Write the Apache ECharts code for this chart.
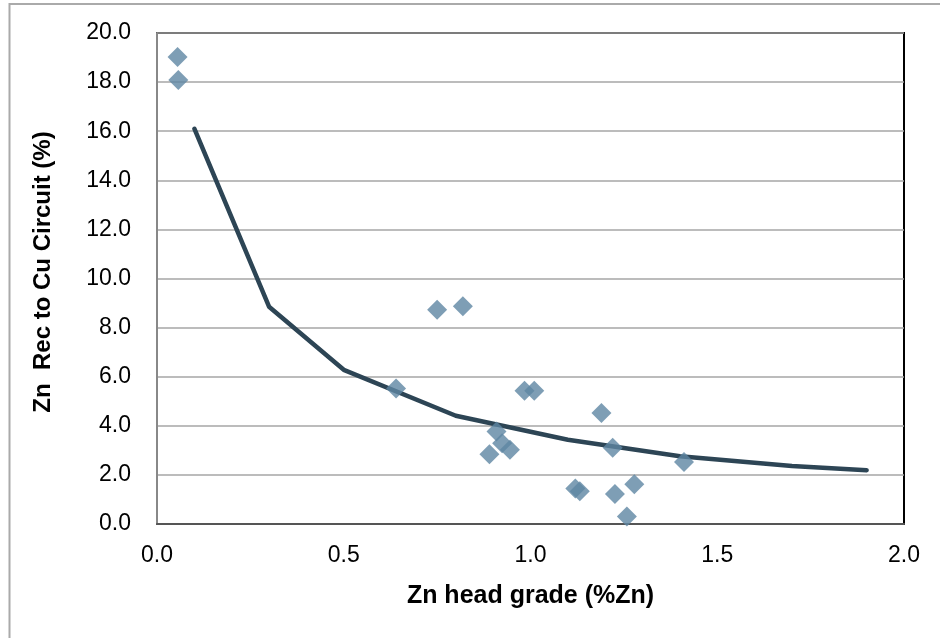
<!DOCTYPE html>
<html>
<head>
<meta charset="utf-8">
<script src="https://cdn.jsdelivr.net/npm/echarts@6/dist/echarts.min.js"></script>
<style>html,body{margin:0;padding:0;background:#fff;}#c{width:940px;height:638px;}</style>
</head>
<body>
<div id="c"></div>
<script>
// Scatter observations: Zn head grade (%Zn) vs Zn recovery to Cu circuit (%)
var pointX = [0.055, 0.057, 0.640, 0.750, 0.819, 0.984, 1.010, 0.909, 0.924, 0.945, 0.890, 1.120, 1.132, 1.190, 1.220, 1.226, 1.278, 1.258, 1.411];
var pointY = [19.02, 18.09, 5.52, 8.73, 8.87, 5.43, 5.43, 3.77, 3.29, 3.02, 2.84, 1.45, 1.33, 4.52, 3.11, 1.22, 1.62, 0.31, 2.53];
// Trend line
var lineX = [0.1, 0.3, 0.5, 0.8, 1.1, 1.4, 1.7, 1.9];
var lineY = [16.1, 8.85, 6.28, 4.41, 3.43, 2.76, 2.36, 2.19];
// Axis ticks
var xTicks = [0.0, 0.5, 1.0, 1.5, 2.0];
var yTicks = [0, 2, 4, 6, 8, 10, 12, 14, 16, 18, 20];

var scatterData = pointX.map(function (x, i) { return [x, pointY[i]]; });
var lineData = lineX.map(function (x, i) { return [x, lineY[i]]; });

var chart = echarts.init(document.getElementById('c'), null, {renderer: 'canvas'});
chart.setOption({
  animation: false,
  backgroundColor: '#fff',
  graphic: [{
    type: 'rect', silent: true, z: -10,
    shape: {x: 9.5, y: 4, width: 960, height: 660},
    style: {fill: 'none', stroke: '#aaaaaa', lineWidth: 2}
  }],
  grid: {
    left: 157, right: 36, top: 33, bottom: 114,
    show: true, borderColor: '#000', borderWidth: 2, backgroundColor: 'transparent'
  },
  xAxis: {
    type: 'value', min: xTicks[0], max: xTicks[xTicks.length - 1], interval: 0.5,
    name: 'Zn head grade (%Zn)', nameLocation: 'middle', nameGap: 60,
    nameTextStyle: {fontFamily: 'Liberation Sans', fontWeight: 'bold', fontSize: 25, color: '#000'},
    axisLine: {show: true, onZero: false, lineStyle: {color: '#555', width: 2}},
    axisTick: {show: false},
    splitLine: {show: false},
    axisLabel: {fontFamily: 'Liberation Sans', fontSize: 23, color: '#000', margin: 20,
      formatter: function (v) { return v.toFixed(1); }}
  },
  yAxis: {
    type: 'value', min: yTicks[0], max: yTicks[yTicks.length - 1], interval: 2,
    name: 'Zn  Rec to Cu Circuit (%)', nameLocation: 'middle', nameGap: 102,
    nameTextStyle: {fontFamily: 'Liberation Sans', fontWeight: 'bold', fontSize: 24, color: '#000',
      padding: [0, 0, 0, 13]},
    axisLine: {show: true, onZero: false, lineStyle: {color: '#888', width: 2}},
    axisTick: {show: false},
    splitLine: {show: true, lineStyle: {color: '#a6a6a6', width: 1.5}},
    axisLabel: {fontFamily: 'Liberation Sans', fontSize: 23, color: '#000', margin: 26,
      formatter: function (v) { return v.toFixed(1); }}
  },
  series: [{
    type: 'line', data: lineData, showSymbol: false, symbol: 'none', z: 2,
    lineStyle: {color: '#2d4555', width: 4.5, cap: 'round', join: 'round'}
  }, {
    type: 'scatter', data: scatterData, symbol: 'diamond', symbolSize: [20, 20], z: 3,
    itemStyle: {color: '#5e86a2'}
  }]
});
</script>
</body>
</html>
